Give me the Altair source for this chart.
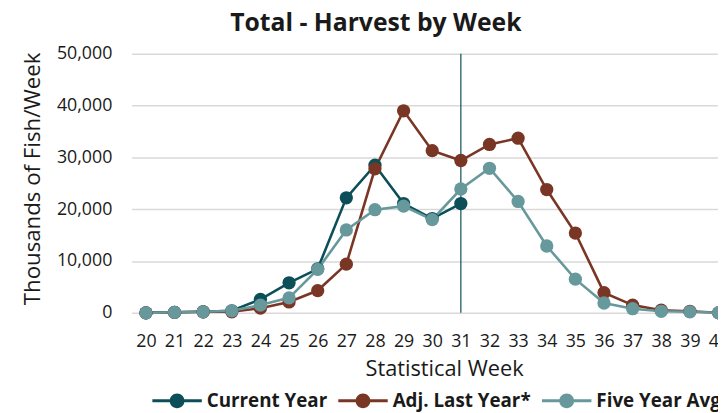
import altair as alt
import pandas as pd

weeks = [20, 21, 22, 23, 24, 25, 26, 27, 28, 29, 30, 31, 32, 33, 34, 35, 36, 37, 38, 39, 40]
current_weeks = [20, 21, 22, 23, 24, 25, 26, 27, 28, 29, 30, 31]
current_year = [0, 100, 200, 400, 2600, 5800, 8500, 22200, 28500, 21100, 18200, 21100]
adj_last_year = [0, 100, 200, 200, 900, 2100, 4300, 9400, 27800, 39000, 31300, 29400,
                 32500, 33700, 23800, 15400, 3900, 1500, 500, 300, 0]
five_year_avg = [0, 100, 200, 400, 1500, 2900, 8400, 16000, 19900, 20600, 18000, 23900,
                 27900, 21500, 12900, 6500, 1900, 800, 300, 200, 0]
series_names = ["Current Year", "Adj. Last Year*", "Five Year Avg"]
series_colors = ["#0c4f59", "#7a3625", "#67989c"]
current_week_marker = [31]
y_ticks = [0, 10000, 20000, 30000, 40000, 50000]

rows = []
for w, v in zip(current_weeks, current_year):
    rows.append({"week": w, "value": v, "series": series_names[0]})
for w, v in zip(weeks, adj_last_year):
    rows.append({"week": w, "value": v, "series": series_names[1]})
for w, v in zip(weeks, five_year_avg):
    rows.append({"week": w, "value": v, "series": series_names[2]})
df = pd.DataFrame(rows)
marker_df = pd.DataFrame({"week": current_week_marker})

FONT = "Open Sans"
TXT = "#1a1a1a"

x_scale = alt.Scale(domain=[19.5, 40.5], nice=False, zero=False)

legend_symbol = ("M-1,-0.06H1V0.06H-1Z "
                 "M-0.3,0A0.3,0.3,0,1,1,0.3,0A0.3,0.3,0,1,1,-0.3,0Z")

x_axis = alt.Axis(
    values=weeks, format="d", title="Statistical Week", grid=False,
    domain=False, ticks=False, labelPadding=20, labelFontSize=18,
    labelFont=FONT, labelColor=TXT, labelFlush=False, labelOverlap=False,
    titleFont=FONT, titleFontSize=22, titleFontWeight="normal",
    titleColor=TXT, titlePadding=8, titleX=316,
)
x_enc = alt.X("week:Q", scale=x_scale, axis=x_axis)
y_enc = alt.Y(
    "value:Q",
    scale=alt.Scale(domain=[0, 50000], nice=False),
    axis=alt.Axis(
        values=y_ticks, format=",d", title="Thousands of Fish/Week",
        grid=True, gridColor="#d9d9d9", gridWidth=1.5, domain=False,
        ticks=False, labelPadding=20, labelFontSize=18, labelFont=FONT,
        labelColor=TXT, labelOverlap=False, titleFont=FONT, titleFontSize=22.5,
        titleFontWeight="normal", titleColor=TXT, titleX=-100, titleY=126,
        titleBaseline="middle", titleAlign="center", titleAngle=270,
    ),
)
color_scale = alt.Scale(domain=series_names, range=series_colors)

rule = alt.Chart(marker_df).mark_rule(color="#0c4f59", strokeWidth=1.2).encode(
    x=x_enc
)

lines = alt.Chart(df).mark_line(strokeWidth=2.6).encode(
    x=x_enc,
    y=y_enc,
    stroke=alt.Stroke("series:N", scale=color_scale, legend=None),
    detail="series:N",
    order=alt.Order("week:Q"),
)

points = alt.Chart(df).mark_point(filled=True, size=180, opacity=1).encode(
    x=x_enc,
    y=y_enc,
    color=alt.Color(
        "series:N", scale=color_scale, sort=series_names,
        legend=alt.Legend(
            orient="none", legendX=21, legendY=326, direction="horizontal",
            title=None, symbolType=legend_symbol, symbolSize=2500,
            symbolStrokeWidth=0, symbolOpacity=1, labelFont=FONT,
            labelFontSize=19, labelFontWeight="bold", labelColor=TXT,
            labelOffset=5, columnPadding=11, padding=0,
        ),
    ),
)

# the reference is cropped at the right edge: the plot runs past the window
chart = alt.layer(rule, lines, points).resolve_scale(stroke="independent").properties(
    width=608,
    height=262,
    padding={"left": 125, "top": 44, "right": -15, "bottom": 99},
    autosize=alt.AutoSizeParams(type="none"),
    title=alt.TitleParams(
        "Total - Harvest by Week", font=FONT, fontSize=25, fontWeight="bold",
        color=TXT, anchor="middle", frame="group", dx=-57, offset=9,
    ),
).configure_view(stroke=None)

chart.save("out.html", embed_options={"renderer": "svg", "actions": False})
